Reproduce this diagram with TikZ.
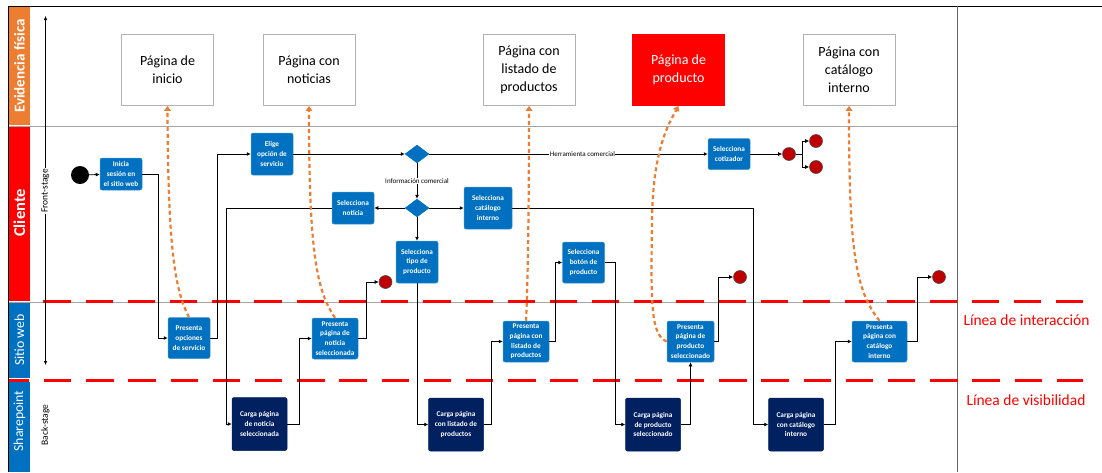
\documentclass[tikz,border=0pt]{standalone}
\usepackage{fontspec}
\setmainfont{Carlito}
\usetikzlibrary{arrows.meta,shapes.geometric}
\definecolor{laneorange}{HTML}{ED7D31}
\definecolor{lanered}{HTML}{FF0000}
\definecolor{laneblue}{HTML}{0070C0}
\definecolor{actblue}{HTML}{0070C0}
\definecolor{backnavy}{HTML}{002060}
\definecolor{endred}{HTML}{C00000}
\definecolor{gridgray}{HTML}{A6A6A6}

\begin{document}
\begin{tikzpicture}[x=1pt, y=-1pt,
  act/.style={fill=actblue, draw=actblue!75!white, line width=0.5pt, rounded corners=2pt, align=center,
              text=white, font=\bfseries\fontsize{7.3}{9.7}\selectfont, inner sep=0.5pt,
              minimum width=42pt, minimum height=41pt},
  back/.style={act, fill=backnavy, draw=backnavy, minimum width=55pt, minimum height=53pt},
  evid/.style={draw=black!30, line width=0.8pt, fill=white, align=center, text=black,
               font=\fontsize{14}{18}\selectfont, minimum width=92pt, minimum height=71pt},
  gatew/.style={diamond, fill=actblue, draw=actblue, inner sep=0pt, minimum width=24pt, minimum height=18pt},
  fin/.style={circle, fill=endred, draw=black!70, line width=0.6pt, minimum size=13pt, inner sep=0pt},
  flow/.style={-{Latex[length=4pt,width=4pt]}, draw=black, line width=0.8pt},
  touch/.style={-{Triangle[length=5pt,width=6.5pt]}, draw=laneorange, line width=2.2pt,
                dash pattern=on 4pt off 3pt},
  lbl/.style={font=\fontsize{7}{8}\selectfont, fill=white, inner sep=0.6pt},
  lane/.style={rotate=90, text=white, font=\fontsize{13.8}{14}\selectfont},
  stagelbl/.style={rotate=90, fill=white, inner sep=1pt, font=\fontsize{9.5}{10}\selectfont},
  sepline/.style={draw=lanered, line width=3pt, dash pattern=on 27.4pt off 14.8pt}
]
\useasboundingbox (0,0) rectangle (1102,472);

\fill[laneorange] (9,6) rectangle (30,125);
\fill[lanered] (9,127) rectangle (30,301);
\fill[laneblue] (9,303) rectangle (30,378);
\fill[laneblue] (9,382) rectangle (30,472);
\node[lane, font=\bfseries\fontsize{15}{15}\selectfont] (lev) at (19.5,66) {Evidencia física};
\node[lane, font=\bfseries\fontsize{16.5}{16}\selectfont] (lcli) at (19.5,213) {Cliente};
\node[lane] (lweb) at (19.5,340) {Sitio web};
\node[lane] (lsp) at (19.5,421) {Sharepoint};

\draw[black, line width=1pt] (8.5,472) -- (8.5,6) -- (1102,6);
\draw[black!60, line width=0.8pt] (957,6) -- (957,472);
\draw[gridgray, line width=0.8pt] (9,126) -- (957,126);
\draw[gridgray, line width=0.8pt] (9,302) -- (957,302);
\draw[sepline] (43.3,301) -- (1083,301);
\draw[sepline, dash phase=6.8pt] (8.5,380) -- (1083,380);
\node[anchor=west, text=lanered, font=\fontsize{15.5}{16}\selectfont] (linter) at (960,320) {Línea de interacción};
\node[anchor=west, text=lanered, font=\fontsize{15.5}{16}\selectfont] (lvisib) at (963,400) {Línea de visibilidad};

\coordinate (axtop) at (45.5,16);
\coordinate (axbot) at (45.5,365);
\draw[{Latex[length=4pt,width=3.5pt]}-{Latex[length=4pt,width=3.5pt]}, line width=0.6pt] (axbot) -- (axtop);
\node[stagelbl] (front) at (45.5,191) {Front-stage};
\node[stagelbl] (backst) at (45.5,425) {Back-stage};

\node[evid] (pginicio) at (167.5,70) {Página de\\inicio};
\node[evid] (pgnoticias) at (309,70) {Página con\\noticias};
\node[evid] (pglistado) at (529,70) {Página con\\listado de\\productos};
\node[evid, fill=lanered, draw=lanered, text=white] (pgproducto) at (678.5,70) {Página de\\producto};
\node[evid] (pgcatalogo) at (849,70) {Página con\\catálogo\\interno};

\node[circle, fill=black, minimum size=18pt, inner sep=0pt] (inicio) at (80,175) {};
\node[act, minimum height=32pt] (inicia) at (121,174) {Inicia\\sesión en\\el sitio web};
\node[act, minimum height=42pt] (elige) at (272,154) {Elige\\opción de\\servicio};
\node[act] (opciones) at (189,338) {Presenta\\opciones\\de servicio};
\node[gatew] (gate1) at (417,154) {};
\node[gatew] (gate2) at (417,208) {};
\node[act, minimum height=32pt] (selnot) at (353,208) {Selecciona\\noticia};
\node[act, minimum width=48pt, minimum height=42pt] (selcat) at (488,208) {Selecciona\\catálogo\\interno};
\node[act, minimum height=42pt] (seltipo) at (417,262) {Selecciona\\tipo de\\producto};
\node[act, minimum height=31pt] (cotiz) at (729,154) {Selecciona\\cotizador};
\node[act] (selbot) at (583.5,262.5) {Selecciona\\botón de\\producto};
\node[act, minimum width=46pt] (presnot) at (335,338.5) {Presenta\\página de\\noticia\\seleccionada};
\node[act, minimum width=46pt] (preslis) at (526,341.5) {Presenta\\página con\\listado de\\productos};
\node[act, minimum width=47pt] (presprod) at (690.5,341.5) {Presenta\\página de\\producto\\seleccionado};
\node[act, minimum width=55pt] (prescat) at (879.5,341.5) {Presenta\\página con\\catálogo\\interno};
\node[back] (carganot) at (259.5,424) {Carga página\\de noticia\\seleccionada};
\node[back] (cargalis) at (456,424.5) {Carga página\\con listado de\\productos};
\node[back] (cargaprod) at (653,424.5) {Carga página\\de producto\\seleccionado};
\node[back] (cargacat) at (796,424.5) {Carga página\\con catálogo\\interno};
\node[fin] (fin1) at (385.5,282) {};
\node[fin] (fin2) at (740,277) {};
\node[fin] (fin3) at (939,277) {};
\node[fin] (split) at (789,154) {};
\node[fin] (finA) at (816,141) {};
\node[fin] (finB) at (816,167) {};

\draw[flow] (inicio) -- (inicia);
\draw[flow] (inicia.east) -- ++(16,0) |- (opciones.west);
\draw[flow] (opciones.east) -- ++(7,0) |- (elige.west);
\draw[flow] (elige) -- (gate1);
\draw[flow] (gate1) -- node[lbl, pos=0.55] {Herramienta comercial} (cotiz);
\draw[flow] (gate1) -- node[lbl] {Información comercial} (gate2);
\draw[flow] (gate2) -- (selnot);
\draw[flow] (gate2) -- (selcat);
\draw[flow] (gate2) -- (seltipo);
\draw[flow] (cotiz) -- (split);
\draw[line width=0.8pt] (split.east) -- ++(6.5,0) coordinate (fork);
\draw[flow] (fork) |- (finA.west);
\draw[flow] (fork) |- (finB.west);
\draw[flow] (selnot.west) -- ++(-105,0) |- (carganot.west);
\draw[flow] (carganot.east) -- ++(12,0) |- (presnot.west);
\draw[flow] (presnot.east) -- ++(8,0) |- (fin1.west);
\draw[flow] (seltipo.south) |- (cargalis.west);
\draw[flow] (cargalis.east) -- ++(8,0) |- (preslis.west);
\draw[flow] (preslis.east) -- ++(6,0) |- (selbot.west);
\draw[flow] (selbot.east) -- ++(11,0) |- (cargaprod.west);
\draw[flow] (cargaprod.east) -| (presprod.south);
\draw[flow] (presprod.east) -- ++(4,0) |- (fin2.west);
\draw[flow] (selcat.east) -- ++(241,0) |- (cargacat.west);
\draw[flow] (cargacat.east) -- ++(12,0) |- (prescat.west);
\draw[flow] (prescat.east) -- ++(10,0) |- (fin3.west);

\draw[touch] (opciones.north) .. controls (175,290) and (168,250) .. (pginicio.south);
\draw[touch] (presnot.north) .. controls (316,290) and (309,250) .. (pgnoticias.south);
\draw[touch] (preslis.north) .. controls (528,280) and (529,200) .. (pglistado.south);
\draw[touch] (presprod.west) .. controls (650,335) and (651,300) .. (652,220)
  .. controls (653,150) and (668,125) .. (pgproducto.south);
\draw[touch] (prescat.north) .. controls (855,290) and (849,250) .. (pgcatalogo.south);
\end{tikzpicture}
\end{document}
